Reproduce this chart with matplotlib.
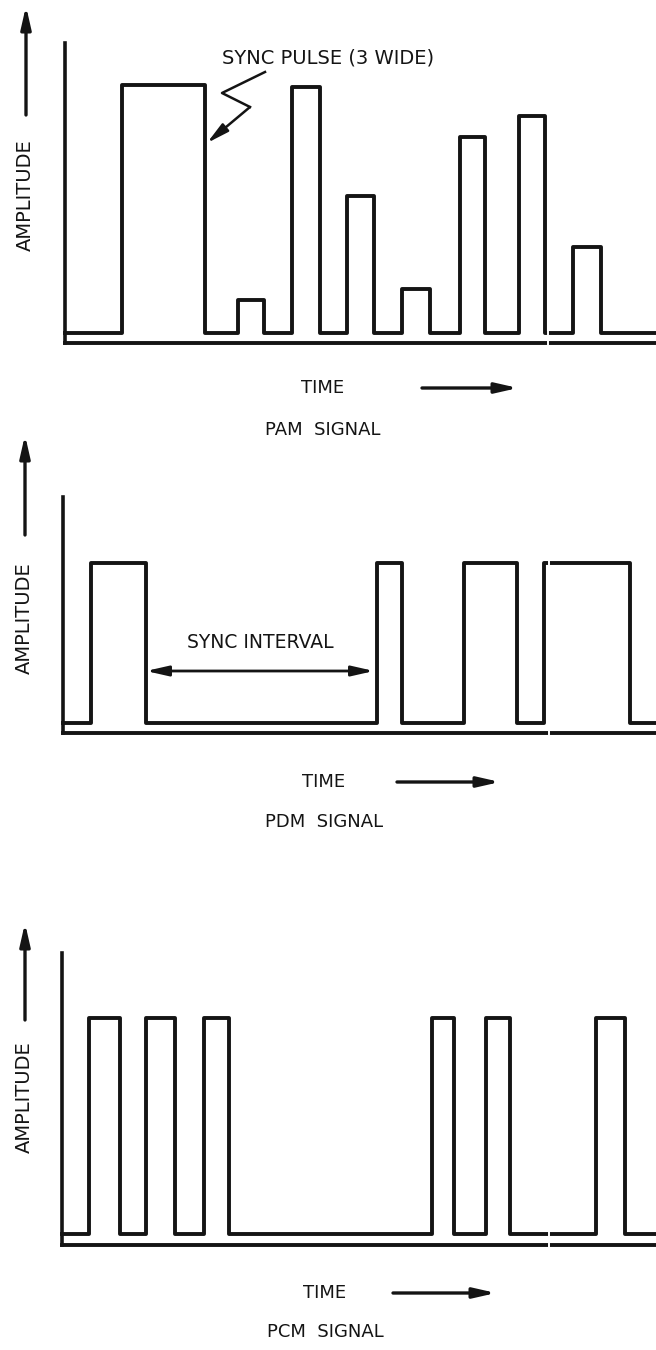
import matplotlib
matplotlib.use("Agg")
import matplotlib.pyplot as plt

# pulse data: start / end time and amplitude (time measured from the y axis,
# amplitude measured up from the signal baseline)
pam_start = [57, 173, 227, 282, 337, 395, 454, 508]
pam_end = [140, 199, 255, 309, 365, 420, 480, 536]
pam_amp = [248, 33, 246, 137, 44, 196, 217, 86]

pdm_start = [28, 314, 401, 481]
pdm_end = [83, 339, 454, 567]
pdm_amp = [160, 160, 160, 160]

pcm_start = [27, 84, 142, 370, 424, 534]
pcm_end = [58, 113, 167, 392, 448, 563]
pcm_amp = [216, 216, 216, 216, 216, 216]

W, H = 656, 1350
INK = "#141414"
HEAD = "-|>,head_length=1.1,head_width=0.25"

fig = plt.figure(figsize=(W / 100, H / 100), dpi=100)


def panel(top, bottom, x0, base):
    # axes across the full width; data units follow the page
    ax = fig.add_axes([0, 1 - bottom / H, 1, (bottom - top) / H])
    ax.set_xlim(-x0, W - x0)
    ax.set_ylim(base - bottom, base - top)
    ax.axis("off")
    return ax


def pulses(ax, starts, ends, amps, t_end):
    xs, ys = [0], [0]
    for s, e, a in zip(starts, ends, amps):
        xs += [s, s, e, e]
        ys += [0, a, a, 0]
    xs.append(t_end)
    ys.append(0)
    ax.plot(xs, ys, color=INK, lw=2.8, clip_on=False)


def frame(ax, t_end, y_top, axis_y, arrow_x, arrow_lo, arrow_hi, amp_y,
          time_x, time_y, arr_x0, arr_x1, title, title_y, brk, brk_hi=6):
    # y axis and time axis
    ax.plot([0, 0], [axis_y, y_top], color=INK, lw=2.6, clip_on=False)
    ax.plot([0, t_end], [axis_y, axis_y], color=INK, lw=2.8, clip_on=False)
    # break in the trace
    ax.plot([brk, brk], [axis_y - 6, brk_hi], color="white", lw=1.4, clip_on=False)
    # amplitude arrow
    ax.annotate("", xy=(arrow_x, arrow_hi), xytext=(arrow_x, arrow_lo),
                arrowprops=dict(arrowstyle=HEAD, lw=2.4, color=INK,
                                mutation_scale=12, shrinkA=0, shrinkB=0),
                annotation_clip=False)
    ax.text(arrow_x - 1, amp_y, "AMPLITUDE", rotation=90, ha="center", va="center",
            fontsize=14, color=INK)
    # time label and arrow
    ax.text(time_x, time_y, "TIME", ha="center", va="center", fontsize=13, color=INK)
    ax.annotate("", xy=(arr_x1, time_y), xytext=(arr_x0, time_y),
                arrowprops=dict(arrowstyle=HEAD, lw=2.4, color=INK,
                                mutation_scale=12, shrinkA=0, shrinkB=0),
                annotation_clip=False)
    ax.text(time_x, title_y, title, ha="center", va="center", fontsize=13, color=INK)


# PAM
ax1 = panel(0, 450, 65, 333)
pulses(ax1, pam_start, pam_end, pam_amp, W - 65)
frame(ax1, W - 65, 290, -10, -39, 218, 327, 138, 258, -55, 357, 453,
      "PAM  SIGNAL", -97, 548 - 65)
ax1.text(263, 275, "SYNC PULSE (3 WIDE)", ha="center", va="center",
         fontsize=14, color=INK)
ax1.plot([200, 157, 185], [261, 240, 226], color=INK, lw=1.8, clip_on=False)
ax1.annotate("", xy=(142, 190), xytext=(185, 226),
             arrowprops=dict(arrowstyle=HEAD, lw=1.8, color=INK,
                             mutation_scale=12, shrinkA=0, shrinkB=0),
             annotation_clip=False)

# PDM
ax2 = panel(450, 880, 63, 723)
pulses(ax2, pdm_start, pdm_end, pdm_amp, W - 63)
frame(ax2, W - 63, 226, -10, -38, 188, 288, 105, 261, -59, 334, 437,
      "PDM  SIGNAL", -99, 549 - 63, brk_hi=170)
ax2.text(197, 80, "SYNC INTERVAL", ha="center", va="center", fontsize=13.5, color=INK)
ax2.annotate("", xy=(311, 52), xytext=(83, 52),
             arrowprops=dict(arrowstyle="<|-|>,head_length=1.1,head_width=0.25",
                             lw=2.0, color=INK, mutation_scale=12,
                             shrinkA=0, shrinkB=0), annotation_clip=False)

# PCM
ax3 = panel(880, 1350, 62, 1234)
pulses(ax3, pcm_start, pcm_end, pcm_amp, W - 62)
frame(ax3, W - 62, 281, -11, -37, 214, 311, 137, 263, -59, 331, 434,
      "PCM  SIGNAL", -98, 549 - 62)

fig.savefig("out.png", dpi=100, facecolor="white")
